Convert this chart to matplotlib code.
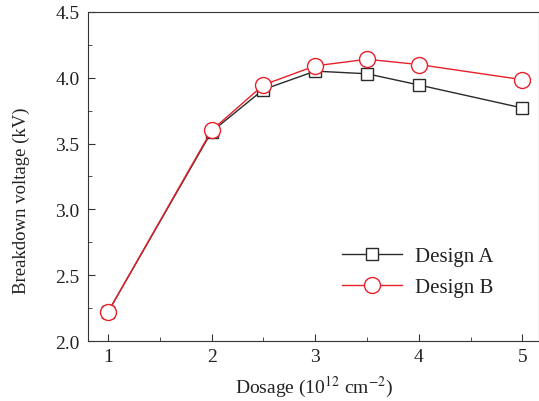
import matplotlib
matplotlib.use("Agg")
import matplotlib.pyplot as plt
from matplotlib.ticker import MultipleLocator

plt.rcParams['font.family'] = ['Liberation Serif', 'DejaVu Serif']
plt.rcParams['mathtext.fontset'] = 'stix'

dosage = [1, 2, 2.5, 3, 3.5, 4, 5]
design_a = [2.22, 3.59, 3.91, 4.05, 4.03, 3.945, 3.77]
design_b = [2.22, 3.60, 3.945, 4.09, 4.14, 4.10, 3.985]
xticks = [1, 2, 3, 4, 5]
yticks = [2.0, 2.5, 3.0, 3.5, 4.0, 4.5]

fig = plt.figure(figsize=(5.39, 4.02), dpi=100)
ax = fig.add_axes([0.163, 0.149, 1.0 - 0.163, 0.968 - 0.149])

ax.plot(dosage, design_a, color='#2a2a2a', lw=1.0, marker='s', ms=9,
        mfc='white', mec='#2a2a2a', mew=1.0, label='Design A')
ax.plot(dosage, design_b, color='#e8202a', lw=1.0, marker='o', ms=11.5,
        mfc='white', mec='#e8202a', mew=1.0, label='Design B')

ax.set_xlim(0.806, 5.16)
ax.set_ylim(2.0, 4.5)
ax.set_xticks(xticks)
ax.set_yticks(yticks)
ax.set_yticklabels([f'{v:.1f}' for v in yticks])
ax.xaxis.set_minor_locator(MultipleLocator(0.5))
ax.yaxis.set_minor_locator(MultipleLocator(0.25))
ax.tick_params(which='both', direction='in', labelsize=14, color='#333333',
               labelcolor='#222222')
ax.tick_params(which='major', length=5)
ax.tick_params(which='minor', length=3)
ax.tick_params(axis='y', pad=6)
ax.tick_params(axis='x', pad=5)
for s in ax.spines.values():
    s.set_color('#333333')

ax.set_xlabel('Dosage (10$^{12}$ cm$^{-2}$)', fontsize=14, color='#222222')
ax.set_ylabel('Breakdown voltage (kV)', fontsize=13.5, color='#222222')
ax.yaxis.set_label_coords(-0.129, 0.43)
ax.xaxis.set_label_coords(0.501, -0.101)

ax.legend(loc='lower right', bbox_to_anchor=(0.94, 0.076), frameon=False,
          fontsize=15, handlelength=2.9, labelspacing=0.55, handletextpad=0.6,
          labelcolor='#222222')

fig.savefig('out.png', dpi=100)
